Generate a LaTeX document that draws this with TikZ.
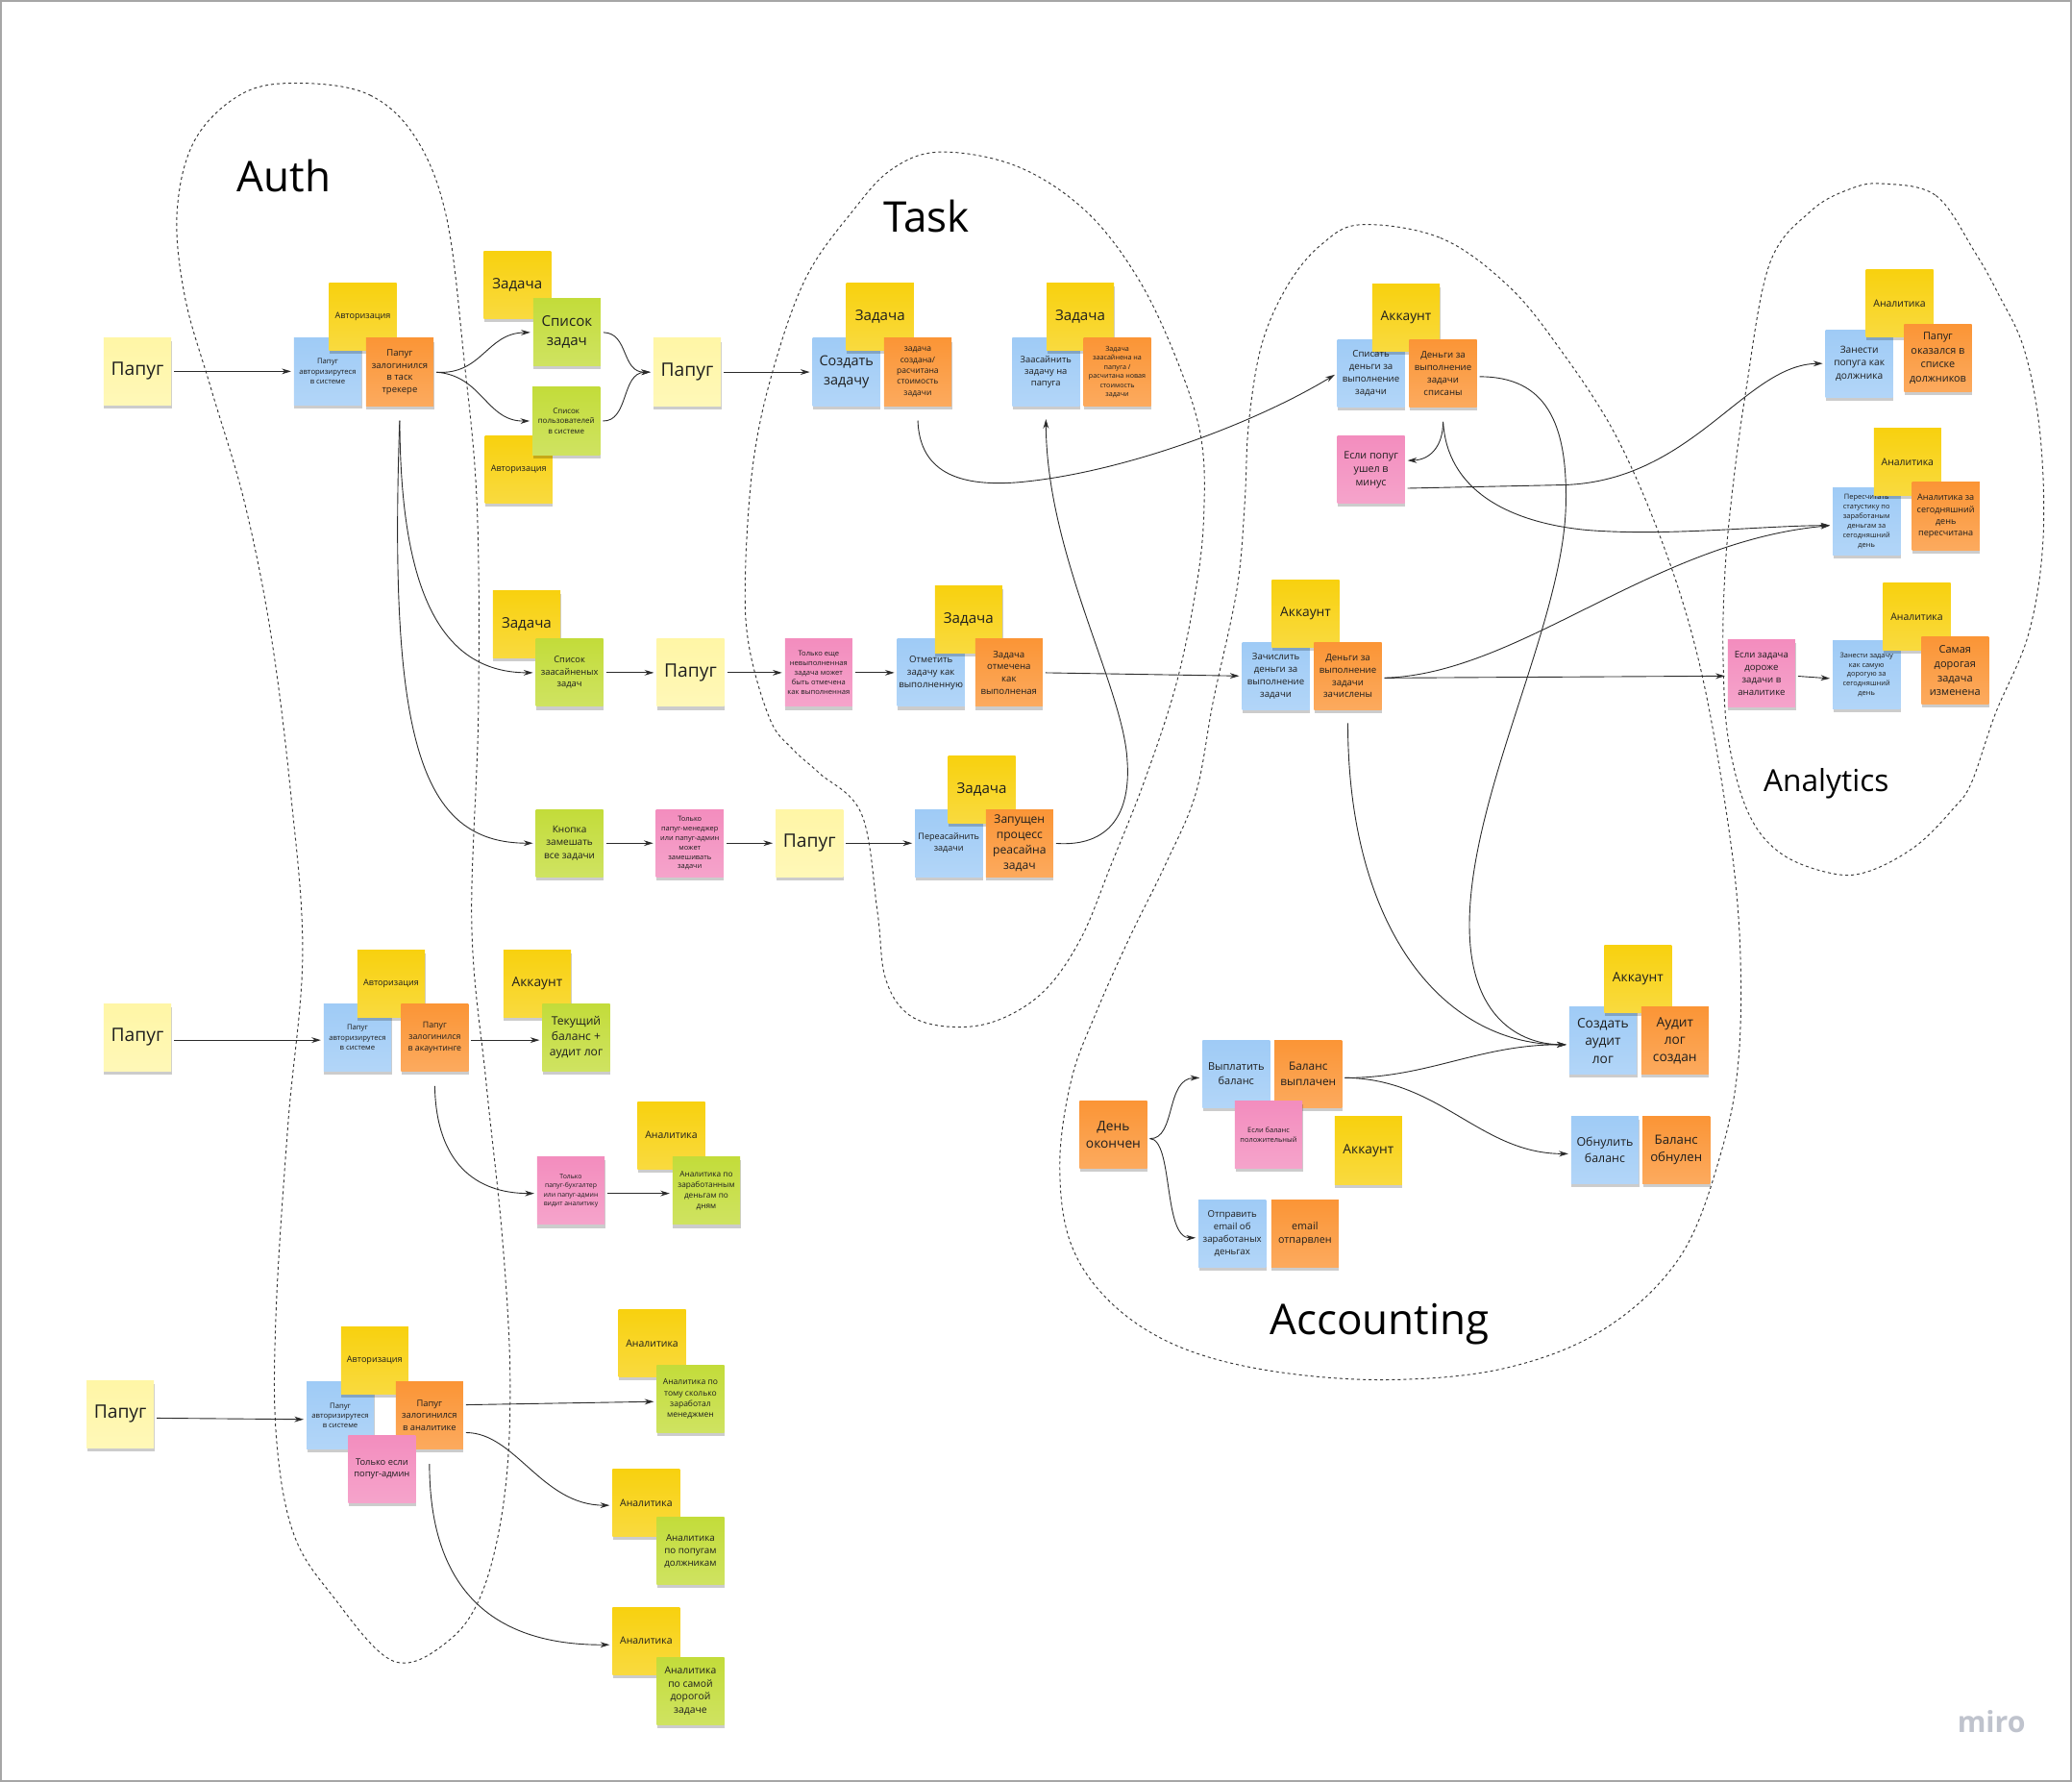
\documentclass[tikz,border=0pt]{standalone}
\usepackage{fontspec}
\setmainfont{Open Sans}
\usetikzlibrary{arrows.meta,shadows}

\definecolor{stLight}{HTML}{FFF6A6}
\definecolor{stYellow}{HTML}{F8D10F}
\definecolor{stBlue}{HTML}{9FCBF6}
\definecolor{stOrange}{HTML}{FB9536}
\definecolor{stGreen}{HTML}{C3DC3A}
\definecolor{stPink}{HTML}{F38DBE}
\definecolor{ink}{HTML}{1E1E1E}
\definecolor{wire}{HTML}{2B2B2B}
\definecolor{fencecol}{HTML}{3A3A3A}
\definecolor{brand}{HTML}{BFC3CD}

\tikzset{
  note/.style={rectangle, minimum width=51pt, minimum height=51pt, inner sep=1pt,
    align=center, text=ink,
    drop shadow={shadow xshift=0.4pt, shadow yshift=-2.6pt, opacity=0.2, fill=black}},
  tint/.style={note, top color=#1, bottom color=#1!80!white},
  lyel/.style={tint=stLight},
  yel/.style={tint=stYellow},
  blu/.style={tint=stBlue},
  ora/.style={tint=stOrange},
  grn/.style={tint=stGreen},
  pnk/.style={tint=stPink},
  fs/.style={font=\fontsize{#1}{\fpeval{1.33*#1}}\selectfont},
  arr/.style={draw=wire, line width=0.65pt, shorten <=2pt, shorten >=2pt,
    -{Stealth[length=7pt,width=4.2pt]}},
  fence/.style={draw=fencecol, line width=0.7pt, dash pattern=on 2.2pt off 2.2pt},
  grp/.style={text=black, inner sep=0pt},
}

\begin{document}
\begin{tikzpicture}[x=1pt,y=-1pt]
% canvas and frame
\fill[white] (0,0) rectangle (1568,1348);
\draw[black!35, line width=1.4pt] (0.7,0.7) rectangle (1567.3,1347.3);

% ---------- bounded-context outlines ----------
\draw[fence] plot[smooth cycle, tension=0.6] coordinates {
 (230,63) (280,72) (315,105) (338,165) (351,270) (361,383) (362,540) (357,700)
 (368,820) (380,935) (386,1040) (382,1130) (366,1202) (340,1241) (298,1257)
 (252,1208) (222,1160) (209,1086) (209,990) (218,850) (229,722) (220,600)
 (205,480) (185,380) (160,295) (140,225) (134,160) (148,105) (185,70)};
\draw[fence] plot[smooth cycle, tension=0.6] coordinates {
 (712,115) (770,126) (822,160) (862,212) (892,276) (909,332) (911,390) (905,446)
 (890,518) (866,591) (841,654) (818,710) (790,750) (755,772) (720,777) (688,768)
 (670,740) (664,690) (652,616) (620,585) (600,567) (583,545) (567,490) (564,436)
 (570,350) (585,280) (610,210) (645,160) (675,128)};
\draw[fence] plot[smooth cycle, tension=0.6] coordinates {
 (1030,170) (1090,180) (1140,215) (1179,262) (1223,330) (1260,416) (1286,502)
 (1305,605) (1316,700) (1316,797) (1303,870) (1272,950) (1215,1005) (1140,1035)
 (1050,1044) (960,1037) (890,1018) (840,985) (810,940) (802,880) (811,816)
 (830,765) (855,709) (882,654) (905,600) (918,531) (936,446) (942,380) (945,320)
 (955,260) (975,215) (1000,185)};
\draw[fence] plot[smooth cycle, tension=0.6] coordinates {
 (1425,139) (1465,148) (1494,190) (1512,222) (1532,265) (1544,330) (1546,410)
 (1535,480) (1510,540) (1492,592) (1478,612) (1450,640) (1415,659) (1387,661)
 (1348,646) (1323,615) (1308,560) (1304,500) (1305,440) (1310,380) (1321,297)
 (1339,200) (1370,160) (1400,143)};

% group titles
\node[grp, font=\fontsize{32}{38}\selectfont] (tAuth) at (215,133) {Auth};
\node[grp, font=\fontsize{32}{38}\selectfont] (tTask) at (701,164) {Task};
\node[grp, font=\fontsize{32}{38}\selectfont] (tAcc) at (1044,1002) {Accounting};
\node[grp, font=\fontsize{23}{28}\selectfont] (tAn) at (1382,593) {Analytics};

% ---------- Auth: task tracker login ----------
\node[lyel, fs=14] (p1) at (104,281) {Папуг};
\node[blu, fs=5.6] (a1b) at (248,281) {Папуг\\авторизирутеся\\в системе};
\node[yel, fs=6.6] (a1y) at (274.5,239.5) {Авторизация};
\node[ora, fs=6.9] (a1o) at (302.5,281.5) {Папуг\\залогинился\\в таск\\трекере};
\node[yel, fs=11] (t1y) at (391.5,215.5) {Задача};
\node[grn, fs=11] (l1g) at (429,251.5) {Список\\задач};
\node[yel, fs=6.6] (a2y) at (392.5,355) {Авторизация};
\node[grn, fs=5.8] (l2g) at (428.5,318.5) {Список\\пользователей\\в системе};
\node[lyel, fs=14] (p2) at (520,281.5) {Папуг};

% ---------- Task ----------
\node[blu, fs=10.5] (c1b) at (640.5,281.5) {Создать\\задачу};
\node[yel, fs=11] (c1y) at (666,239.5) {Задача};
\node[ora, fs=6.2] (c1o) at (694.5,281.5) {задача\\создана/\\расчитана\\стоимость\\задачи};
\node[blu, fs=6.8] (s1b) at (791.5,281.5) {Заасайнить\\задачу на\\папуга};
\node[yel, fs=11] (s1y) at (817.5,239.5) {Задача};
\node[ora, fs=5.2] (s1o) at (845.5,281.5) {Задача\\заасайнена на\\папуга /\\расчитана новая\\стоимость\\задачи};

\node[yel, fs=11] (t2y) at (398.5,472.5) {Задача};
\node[grn, fs=6.8] (l3g) at (431,509) {Список\\заасайненых\\задач};
\node[lyel, fs=14] (p3) at (522.5,509) {Папуг};
\node[pnk, fs=5.5] (k1) at (619.5,509) {Только еще\\невыполненная\\задача может\\быть отмечена\\как выполненная};
\node[blu, fs=7] (m1b) at (704.5,509) {Отметить\\задачу как\\выполненную};
\node[yel, fs=11] (m1y) at (733,468.5) {Задача};
\node[ora, fs=7] (m1o) at (763.5,509) {Задача\\отмечена\\как\\выполненая};

\node[grn, fs=7.3] (kn) at (431,638) {Кнопка\\замешать\\все задачи};
\node[pnk, fs=5.4] (k2) at (522,638) {Только\\папуг-менеджер\\или папуг-админ\\может\\замешивать\\задачи};
\node[lyel, fs=14] (p4) at (612.5,638) {Папуг};
\node[blu, fs=6.6] (r1b) at (718,638) {Переасайнить\\задачи};
\node[yel, fs=11] (r1y) at (743,597.5) {Задача};
\node[ora, fs=8.8] (r1o) at (771.5,638) {Запущен\\процесс\\реасайна\\задач};

% ---------- Accounting ----------
\node[blu, fs=7] (w1b) at (1037.5,282.5) {Списать\\деньги за\\выполнение\\задачи};
\node[yel, fs=10] (w1y) at (1064,240.5) {Аккаунт};
\node[ora, fs=7] (w1o) at (1092,282.5) {Деньги за\\выполнение\\задачи\\списаны};
\node[pnk, fs=7.8] (w1k) at (1037.5,355.5) {Если попуг\\ушел в\\минус};

\node[blu, fs=7] (d1b) at (965.5,511.5) {Зачислить\\деньги за\\выполнение\\задачи};
\node[yel, fs=10] (d1y) at (988,464.5) {Аккаунт};
\node[ora, fs=7] (d1o) at (1020,511.5) {Деньги за\\выполнение\\задачи\\зачислены};

\node[blu, fs=10] (u1b) at (1213,787.5) {Создать\\аудит\\лог};
\node[yel, fs=10] (u1y) at (1239.5,740.5) {Аккаунт};
\node[ora, fs=10] (u1o) at (1267.5,787.5) {Аудит\\лог\\создан};

\node[ora, fs=10] (e1) at (842.5,858.5) {День\\окончен};
\node[blu, fs=8] (b1b) at (935.5,812.5) {Выплатить\\баланс};
\node[ora, fs=8.6] (b1o) at (990,812.5) {Баланс\\выплачен};
\node[pnk, fs=5.4] (b1k) at (960,858.5) {Если баланс\\положительный};
\node[yel, fs=10] (b2y) at (1035.5,870.5) {Аккаунт};
\node[blu, fs=7] (e2b) at (932.5,933.5) {Отправить\\email об\\заработаных\\деньгах};
\node[ora, fs=7.8] (e2o) at (987.5,933.5) {email\\отпарвлен};
\node[blu, fs=9] (z1b) at (1214.5,870) {Обнулить\\баланс};
\node[ora, fs=9.6] (z1o) at (1268.5,870) {Баланс\\обнулен};

% ---------- Analytics ----------
\node[blu, fs=7.4] (n1b) at (1407,275) {Занести\\попуга как\\должника};
\node[yel, fs=7.6] (n1y) at (1437.5,229.5) {Аналитика};
\node[ora, fs=7.9] (n1o) at (1466.5,271) {Папуг\\оказался в\\списке\\должников};
\node[blu, fs=5.4] (n2b) at (1412.5,394.5) {Пересчитать\\статустику по\\заработаным\\деньгам за\\сегодняшний\\день};
\node[yel, fs=7.6] (n2y) at (1443.5,349.5) {Аналитика};
\node[ora, fs=6.6] (n2o) at (1472.5,390.5) {Аналитика за\\сегодняшний\\день\\пересчитана};
\node[pnk, fs=7] (n3k) at (1333,509.5) {Если задача\\дороже\\задачи в\\аналитике};
\node[blu, fs=5.4] (n3b) at (1412.5,510.5) {Занести задачу\\как самую\\дорогую за\\сегодняшний\\день};
\node[yel, fs=7.6] (n3y) at (1450.5,466.5) {Аналитика};
\node[ora, fs=8] (n3o) at (1479.5,507.5) {Самая\\дорогая\\задача\\изменена};

% ---------- Auth: accounting login ----------
\node[lyel, fs=14] (p5) at (104,785) {Папуг};
\node[blu, fs=5.6] (a3b) at (270.5,785) {Папуг\\авторизирутеся\\в системе};
\node[yel, fs=6.6] (a3y) at (296,744.5) {Авторизация};
\node[ora, fs=6.4] (a3o) at (329,785) {Папуг\\залогинился\\в акаунтинге};
\node[yel, fs=10] (v1y) at (406.5,744.5) {Аккаунт};
\node[grn, fs=8.8] (v1g) at (436,785) {Текущий\\баланс +\\аудит лог};
\node[pnk, fs=5] (v2k) at (432,901) {Только\\папуг-бухгалтер\\или папуг-админ\\видит аналитику};
\node[yel, fs=7.6] (v2y) at (508,859) {Аналитика};
\node[grn, fs=6] (v2g) at (534.5,901) {Аналитика по\\заработанным\\деньгам по\\дням};

% ---------- Auth: analytics login ----------
\node[lyel, fs=14] (p6) at (91,1070) {Папуг};
\node[blu, fs=5.6] (a4b) at (257.5,1071) {Папуг\\авторизирутеся\\в системе};
\node[yel, fs=6.6] (a4y) at (283.5,1029.5) {Авторизация};
\node[ora, fs=6.8] (a4o) at (325,1071) {Папуг\\залогинился\\в аналитике};
\node[pnk, fs=6.8] (a4k) at (289,1111.5) {Только если\\попуг-админ};
\node[yel, fs=7.6] (y1y) at (493.5,1016.5) {Аналитика};
\node[grn, fs=6.2] (y1g) at (522.5,1058.5) {Аналитика по\\тому сколько\\заработал\\менеджмен};
\node[yel, fs=7.6] (y2y) at (489,1137) {Аналитика};
\node[grn, fs=7.1] (y2g) at (522.5,1173.5) {Аналитика\\по попугам\\должникам};
\node[yel, fs=7.6] (y3y) at (489,1241.5) {Аналитика};
\node[grn, fs=7.5] (y3g) at (522.5,1279.5) {Аналитика\\по самой\\дорогой\\задаче};

% watermark
\node[text=brand, font=\fontsize{22}{26}\selectfont\bfseries] (mark) at (1507,1303) {miro};

% ---------- connectors ----------
% auth, task tracker
\draw[arr] (p1.east) -- (a1b.west);
\draw[arr] (a1o.east) .. controls (365,284) and (368,252) .. (l1g.west);
\draw[arr] (a1o.east) .. controls (365,284) and (368,319) .. (l2g.west);
\draw[arr] (l1g.east) .. controls (476,252) and (470,282) .. (p2.west);
\draw[arr] (l2g.east) .. controls (476,319) and (470,282) .. (p2.west);
\draw[arr] (p2.east) -- (c1b.west);
\draw[arr] ([yshift=-9pt]a1o.south) .. controls (303,440) and (330,509) .. (l3g.west);
\draw[arr] ([yshift=-9pt]a1o.south) .. controls (294,560) and (318,638) .. (kn.west);

% task flows
\draw[arr] (l3g.east) -- (p3.west);
\draw[arr] (p3.east) -- (k1.west);
\draw[arr] (k1.east) -- (m1b.west);
\draw[arr] (m1o.east) -- (d1b.west);
\draw[arr] (kn.east) -- (k2.west);
\draw[arr] (k2.east) -- (p4.west);
\draw[arr] (p4.east) -- (r1b.west);
\draw[arr] (r1o.east) .. controls (840,641) and (856,615) .. (853,575)
   .. controls (850,520) and (792,420) .. ([yshift=-8pt]s1b.south);
\draw[arr] ([yshift=-9pt]c1o.south) .. controls (696,360) and (730,368) .. (770,365)
   .. controls (850,358) and (950,320) .. (w1b.west);

% accounting
\draw[arr] ([yshift=-9pt]w1o.south) .. controls (1092,338) and (1082,348) .. ([yshift=7pt]w1k.east);
\draw[arr] ([yshift=-9pt]w1o.south) .. controls (1095,370) and (1140,395) .. (1200,401)
   .. controls (1260,406) and (1330,398) .. ([yshift=-3pt]n2b.west);
\draw[arr] ([yshift=-14pt]w1k.east) -- (1180,367) .. controls (1280,366) and (1320,276) .. (n1b.west);
\draw[arr] ([yshift=-2.5pt]w1o.east) .. controls (1170,285) and (1186,320) .. (1185,380)
   .. controls (1184,470) and (1112,600) .. (1112,700)
   .. controls (1112,770) and (1150,790) .. ([yshift=-3pt]u1b.west);
\draw[arr] ([yshift=-1.5pt]d1o.east) .. controls (1150,510) and (1250,410) .. ([yshift=-3pt]n2b.west);
\draw[arr] ([yshift=-1.5pt]d1o.east) -- ([yshift=-2pt]n3k.west);
\draw[arr] ([yshift=-8pt]d1o.south) .. controls (1020,700) and (1090,790) .. ([yshift=-3pt]u1b.west);
\draw[arr] ([yshift=-2pt]n3k.east) -- ([yshift=-3pt]n3b.west);
\draw[arr] ([yshift=-3pt]e1.east) .. controls (890,862) and (882,816) .. ([yshift=-3pt]b1b.west);
\draw[arr] ([yshift=-3pt]e1.east) .. controls (888,862) and (880,937) .. ([yshift=-3pt]e2b.west);
\draw[arr] ([yshift=-3pt]b1o.east) .. controls (1080,816) and (1120,790) .. ([yshift=-3pt]u1b.west);
\draw[arr] ([yshift=-3pt]b1o.east) .. controls (1090,816) and (1120,873) .. ([yshift=-3pt]z1b.west);

% auth, accounting login
\draw[arr] ([yshift=-2pt]p5.east) -- ([yshift=-2pt]a3b.west);
\draw[arr] ([yshift=-2pt]a3o.east) -- ([yshift=-2pt]v1g.west);
\draw[arr] ([yshift=-9pt]a3o.south) .. controls (330,880) and (360,903) .. ([yshift=-2pt]v2k.west);
\draw[arr] ([yshift=-2pt]v2k.east) -- ([yshift=-2pt]v2g.west);

% auth, analytics login
\draw[arr] ([yshift=-3pt]p6.east) -- ([yshift=-3pt]a4b.west);
\draw[arr] ([yshift=8pt]a4o.east) -- ([yshift=-2pt]y1g.west);
\draw[arr] ([yshift=-13pt]a4o.east) .. controls (390,1084) and (410,1139) .. ([yshift=-2pt]y2y.west);
\draw[arr] ([yshift=-9pt]a4o.south) .. controls (325,1200) and (370,1245) .. ([yshift=-3pt]y3y.west);
\end{tikzpicture}
\end{document}
